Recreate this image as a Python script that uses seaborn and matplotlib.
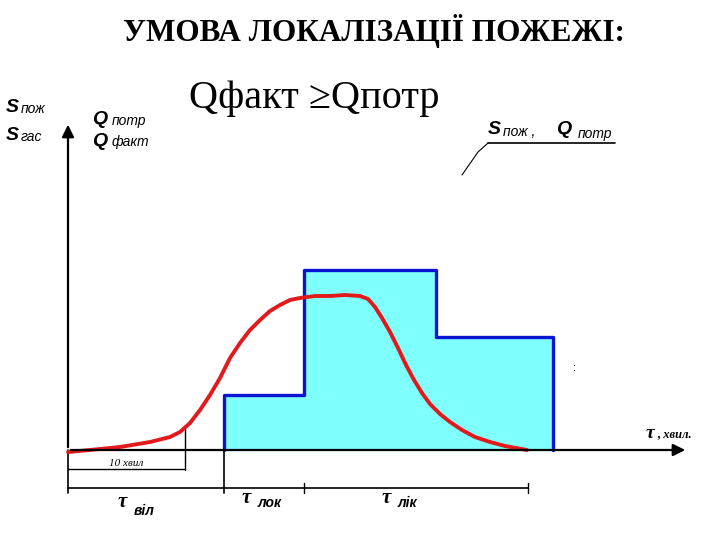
import numpy as np
import pandas as pd
import matplotlib
matplotlib.use('Agg')
import matplotlib.pyplot as plt
import seaborn as sns

sns.set_style('white')
plt.rcParams['font.family'] = ['Liberation Sans', 'DejaVu Sans']
plt.rcParams['text.color'] = 'black'

# step function of required flow (S_пож, Q_потр), time in px-units from origin
step_x = [156, 156, 236, 236, 368, 368, 485, 485]
step_y = [0, 55, 55, 180, 180, 113, 113, 0]

# actual flow curve Q_факт
curve_x = [0, 22, 52, 82, 102, 112, 122, 132, 142, 152, 162, 172, 182, 192,
           202, 212, 222, 232, 247, 262, 277, 292, 300, 307, 314, 322, 330,
           338, 346, 354, 362, 372, 382, 394, 407, 422, 437, 459]
curve_y = [-2, 0, 3, 8, 13, 18, 27, 40, 55, 72, 92, 107, 120, 130,
           139, 145, 150, 152, 154, 154, 155, 154, 151, 143, 132, 118, 102,
           85, 70, 57, 46, 36, 28, 20, 13, 8, 4, 0]

# time marks on the bottom dimension line
t_marks = [0, 156, 236, 460]
t_labels = ['віл', 'лок', 'лік']
ten_min = 117

df = pd.DataFrame({'x': curve_x, 'y': curve_y})

fig = plt.figure(figsize=(7.2, 5.4), dpi=100)
ax = fig.add_axes([0, 0, 1, 1])
ax.set_xlim(-68, 652)
ax.set_ylim(-90, 450)
ax.axis('off')

# filled step area
ax.fill_between(step_x, 0, step_y, color='#80ffff', zorder=1)
ax.plot(step_x, step_y, color='#0a14d2', lw=2.4, zorder=2)

sns.lineplot(data=df, x='x', y='y', sort=False, color='#e31a1c', lw=2.8, ax=ax,
             zorder=3, solid_joinstyle='round')

# axes with arrows
ax.annotate('', xy=(0, 328), xytext=(0, 0),
            arrowprops=dict(arrowstyle='-|>', color='black', lw=1.6, mutation_scale=18))
ax.annotate('', xy=(620, 0), xytext=(0, 0),
            arrowprops=dict(arrowstyle='-|>', color='black', lw=1.6, mutation_scale=18))

# dimension lines
ax.plot([ten_min, ten_min], [25, -20], color='black', lw=1)
ax.plot([0, ten_min], [-19, -19], color='black', lw=1)
ax.text(ten_min / 2, -13, '10 хвил', ha='center', va='center', fontsize=8,
        style='italic', family=['Liberation Serif'])
ax.plot([0, 0], [0, -43], color='black', lw=1.2)
ax.plot([156, 156], [0, -43], color='black', lw=1.2)
ax.plot([0, t_marks[-1]], [-38, -38], color='black', lw=1.2)
for t in t_marks[2:]:
    ax.plot([t, t], [-33, -43], color='black', lw=1)

lab_x = [54, 178, 318]
lab_y = [-52, -48, -48]
for lx, ly, lab in zip(lab_x, lab_y, t_labels):
    ax.text(lx, ly, 'τ', fontsize=15, fontweight='bold', style='italic',
            ha='center', va='center', family=['Liberation Serif'])
    ax.text(lx + 12, ly - 9 if lab == 'віл' else ly - 5, lab, fontsize=10,
            style='italic', fontweight='bold', ha='left', va='center')

ax.text(582, 17, 'τ', fontsize=14, fontweight='bold', style='italic', ha='center',
        va='center', family=['Liberation Serif'])
ax.text(589, 16, ', хвил.', fontsize=9, style='italic', fontweight='bold', ha='left',
        va='center', family=['Liberation Serif'])

# axis labels top-left
for txt, sub, x, y in [('S', 'пож', -62, 343), ('S', 'гас', -62, 315)]:
    ax.text(x, y, txt, fontsize=14, fontweight='bold', style='italic', va='center')
    ax.text(x + 15, y - 2, sub, fontsize=10, style='italic', va='center')
for txt, sub, x, y in [('Q', 'потр', 24, 330), ('Q', 'факт', 24, 309)]:
    ax.text(x, y, txt, fontsize=14, fontweight='bold', style='italic', va='center')
    ax.text(x + 20, y - 1, sub, fontsize=10, style='italic', va='center')

# callout
ax.text(420, 320, 'S', fontsize=14, fontweight='bold', style='italic', va='center')
ax.text(435, 318, 'пож ,', fontsize=10, style='italic', va='center')
ax.text(488, 320, 'Q', fontsize=14, fontweight='bold', style='italic', va='center')
ax.text(510, 316, 'потр', fontsize=10, style='italic', va='center')
ax.plot([420, 547], [307, 307], color='black', lw=1.2)
ax.plot([420, 410, 394], [307, 298, 275], color='black', lw=0.8)

ax.text(507, 82, ':', fontsize=8, ha='center', va='center')

# titles
fig.text(0.519, 0.943, 'УМОВА ЛОКАЛІЗАЦІЇ ПОЖЕЖІ:', ha='center', va='center',
         fontsize=22.5, fontweight='bold', family=['Liberation Serif'])
fig.text(0.262, 0.817, 'Qфакт ≥Qпотр', ha='left', va='center', fontsize=29,
         family=['Liberation Serif', 'DejaVu Serif'])

fig.savefig('out.png', dpi=100)
